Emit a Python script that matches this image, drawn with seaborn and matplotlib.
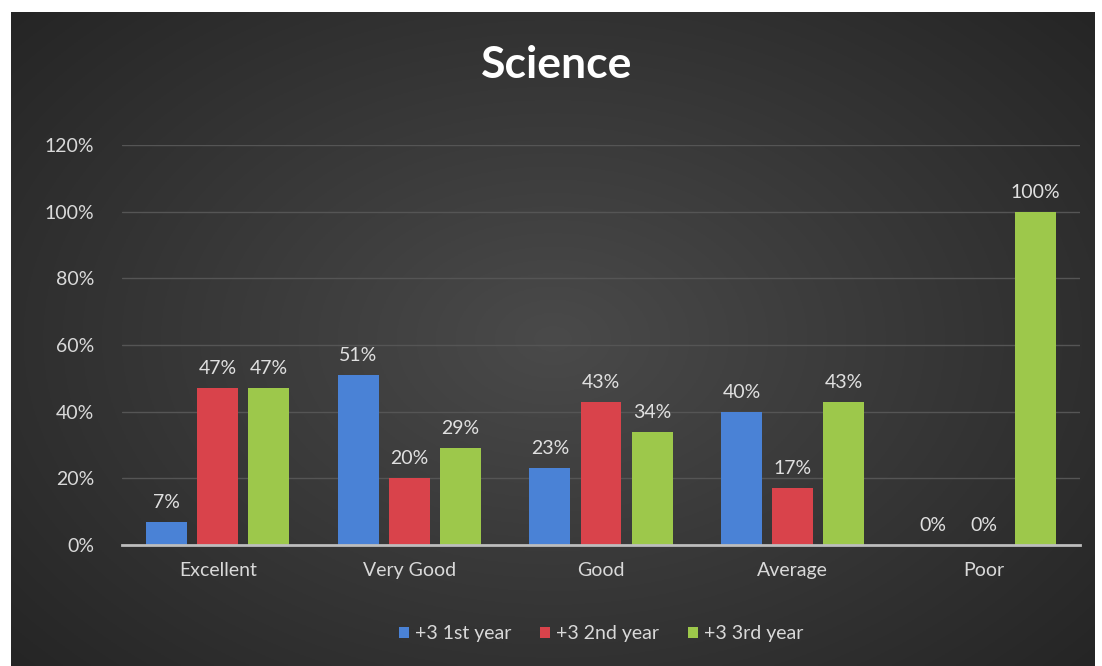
import numpy as np
import pandas as pd
import matplotlib
matplotlib.use("Agg")
import matplotlib.pyplot as plt
import seaborn as sns
from matplotlib.ticker import PercentFormatter

categories = ["Excellent", "Very Good", "Good", "Average", "Poor"]
series_names = ["+3 1st year", "+3 2nd year", "+3 3rd year"]
first_year = [7, 51, 23, 40, 0]
second_year = [47, 20, 43, 17, 0]
third_year = [47, 29, 34, 43, 100]
yticks = [0, 20, 40, 60, 80, 100, 120]
colors = ["#4a82d6", "#d9434b", "#9dc84b"]

rows = []
for name, vals in zip(series_names, [first_year, second_year, third_year]):
    for c, v in zip(categories, vals):
        rows.append({"Category": c, "Series": name, "Value": v})
df = pd.DataFrame(rows)

sns.set_theme(style="dark")
plt.rcParams['font.family'] = ['Lato', 'DejaVu Sans']

fig = plt.figure(figsize=(11.02, 6.66), dpi=100)
fig.patch.set_facecolor("white")

# background panel with radial gradient
bg = fig.add_axes([11/1102, 0, (1095-11)/1102, (666-12)/666])
yy, xx = np.mgrid[-1:1:300j, -1:1:500j]
r = np.sqrt((xx*0.9)**2 + (yy*0.8)**2)
g = 0.29 - 0.12*np.clip(r, 0, 1.3)
bg.imshow(np.dstack([g, g, g]), aspect="auto", extent=[0, 1, 0, 1])
bg.set_axis_off()

ax = fig.add_axes([122/1102, 121/666, (1080-122)/1102, (545-145)/666])
ax.set_facecolor("none")
sns.barplot(data=df, x="Category", y="Value", hue="Series", palette=colors,
            width=0.8, gap=0.2, ax=ax, edgecolor="none", saturation=1)
ax.set_ylim(0, 120)
ax.set_yticks(yticks)
ax.yaxis.set_major_formatter(PercentFormatter(decimals=0))
ax.grid(axis="y", color="#555555", linewidth=1)
ax.grid(axis="x", visible=False)
ax.set_axisbelow(True)
for s in ["top", "right", "left"]:
    ax.spines[s].set_visible(False)
ax.spines["bottom"].set_color("#bdbdbd")
ax.spines["bottom"].set_linewidth(2)
ax.tick_params(axis="both", colors="#d9d9d9", labelsize=14, length=0)
ax.tick_params(axis="x", pad=12)
ax.tick_params(axis="y", pad=20)
ax.set_xlabel("")
ax.set_ylabel("")

for cont in ax.containers:
    ax.bar_label(cont, fmt="%.0f%%", color="#e0e0e0", fontsize=14, padding=8)

leg = ax.legend(loc="center", bbox_to_anchor=(0.5, -(634-545)/400), ncol=3,
                frameon=False, fontsize=14, handlelength=0.5, handleheight=0.5,
                handletextpad=0.3, columnspacing=1.5)
for t in leg.get_texts():
    t.set_color("#d9d9d9")

fig.text(557/1102, 1-65/666, "Science", ha="center", va="center",
         fontsize=32, fontweight="bold", color="white")

fig.savefig("out.png", dpi=100)
